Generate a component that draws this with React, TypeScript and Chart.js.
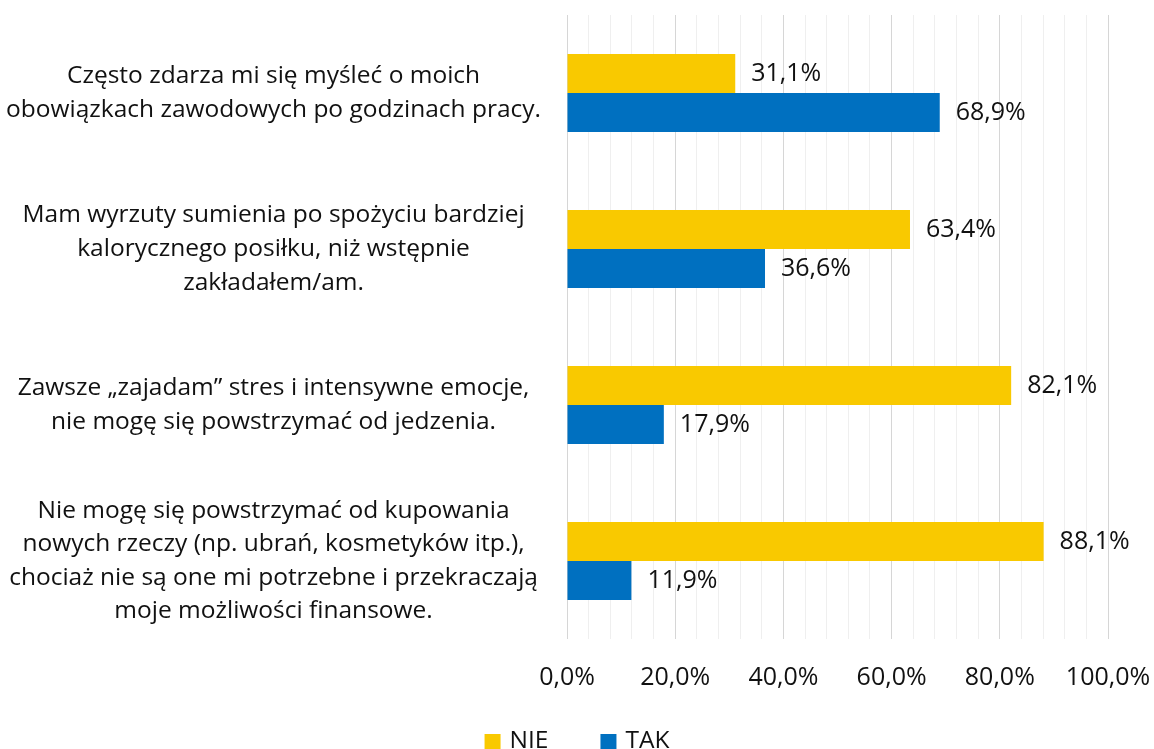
import React, { useEffect, useRef } from "react";
import { Chart, registerables } from "chart.js";

Chart.register(...registerables);

const categories: string[][] = [
  ["Często zdarza mi się myśleć o moich", "obowiązkach zawodowych po godzinach pracy."],
  ["Mam wyrzuty sumienia po spożyciu bardziej", "kalorycznego posiłku, niż wstępnie", "zakładałem/am."],
  ["Zawsze „zajadam” stres i intensywne emocje,", "nie mogę się powstrzymać od jedzenia."],
  [
    "Nie mogę się powstrzymać od kupowania",
    "nowych rzeczy (np. ubrań, kosmetyków itp.),",
    "chociaż nie są one mi potrzebne i przekraczają",
    "moje możliwości finansowe.",
  ],
];

const seriesNames = ["NIE", "TAK"];
const nieValues = [31.1, 63.4, 82.1, 88.1];
const takValues = [68.9, 36.6, 17.9, 11.9];
const seriesColors = ["#F9C900", "#0070C0"];

const FONT = "'Open Sans', sans-serif";
const TEXT = "#111111";

const fmt = (v: number) => v.toFixed(1).replace(".", ",") + "%";

const dataLabelPlugin = {
  id: "dataLabels",
  afterDatasetsDraw(chart: any) {
    const ctx = chart.ctx;
    ctx.save();
    ctx.font = `25px ${FONT}`;
    ctx.fillStyle = TEXT;
    ctx.textAlign = "left";
    ctx.textBaseline = "middle";
    chart.data.datasets.forEach((ds: any, i: number) => {
      const meta = chart.getDatasetMeta(i);
      meta.data.forEach((bar: any, j: number) => {
        ctx.fillText(fmt(ds.data[j]), bar.x + 16, bar.y);
      });
    });
    ctx.restore();
  },
};

const legendPlugin = {
  id: "customLegend",
  afterDraw(chart: any) {
    const ctx = chart.ctx;
    ctx.save();
    ctx.font = `24.5px ${FONT}`;
    ctx.textBaseline = "middle";
    ctx.textAlign = "left";
    const box = 16;
    const gapText = 9;
    const gapItems = 52;
    const widths = seriesNames.map((n) => box + gapText + ctx.measureText(n).width);
    const total = widths.reduce((a, b) => a + b, 0) + gapItems * (widths.length - 1);
    let x = chart.width / 2 - total / 2;
    const cy = 742;
    seriesNames.forEach((n, i) => {
      ctx.fillStyle = seriesColors[i];
      ctx.fillRect(x, cy - box / 2, box, box);
      ctx.fillStyle = TEXT;
      ctx.fillText(n, x + box + gapText, cy - 1);
      x += widths[i] + gapItems;
    });
    ctx.restore();
  },
};

export default function App() {
  const ref = useRef<HTMLCanvasElement>(null);
  useEffect(() => {
    if (!ref.current) return;
    const chart = new Chart(ref.current, {
      type: "bar",
      data: {
        labels: categories,
        datasets: [
          { label: seriesNames[0], data: nieValues, backgroundColor: seriesColors[0] },
          { label: seriesNames[1], data: takValues, backgroundColor: seriesColors[1] },
        ],
      },
      options: {
        indexAxis: "y",
        responsive: false,
        animation: false,
        layout: { padding: { top: 15, right: 46, bottom: 32, left: 0 } },
        datasets: { bar: { categoryPercentage: 0.5, barPercentage: 1.0 } },
        plugins: {
          legend: { display: false },
          tooltip: { enabled: false },
        },
        scales: {
          x: {
            min: 0,
            max: 100,
            border: { display: false },
            grid: {
              drawTicks: false,
              color: (c: any) => (c.tick && c.tick.value % 20 === 0 ? "#d6d6d6" : "#efefef"),
              lineWidth: 1,
            },
            afterFit: (scale: any) => {
              scale.paddingLeft = 0;
              scale.paddingRight = 0;
            },
            ticks: {
              stepSize: 4,
              autoSkip: false,
              maxRotation: 0,
              minRotation: 0,
              padding: 24,
              color: TEXT,
              font: { family: FONT, size: 25 },
              callback: (v: any) => (Number(v) % 20 === 0 ? fmt(Number(v)) : ""),
            },
          },
          y: {
            border: { display: false },
            grid: { display: false, drawTicks: false },
            afterFit: (scale: any) => {
              scale.width = 567;
              scale.paddingTop = 0;
              scale.paddingBottom = 0;
            },
            ticks: {
              autoSkip: false,
              crossAlign: "center",
              padding: 26,
              color: TEXT,
              font: { family: FONT, size: 24.5, lineHeight: 1.37 },
            },
          },
        },
      },
      plugins: [dataLabelPlugin, legendPlugin],
    });
    return () => chart.destroy();
  }, []);
  return (
    <canvas
      ref={ref}
      width={1154}
      height={749}
      style={{ position: "fixed", left: 0, top: 0, display: "block" }}
    />
  );
}
